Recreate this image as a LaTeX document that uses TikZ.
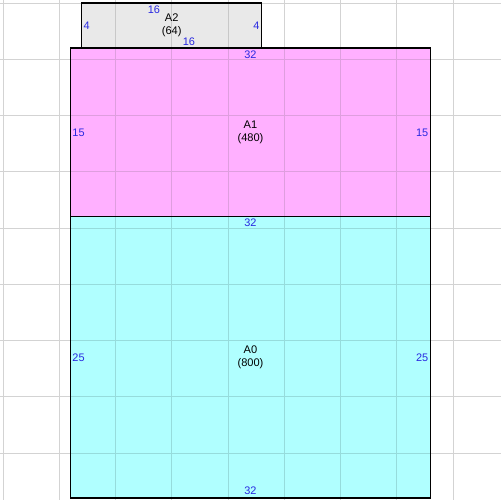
\documentclass[tikz,border=0pt]{standalone}
\usepackage{fontspec}
\setmainfont{Liberation Sans}
\definecolor{gridgray}{RGB}{211,211,211}
\definecolor{pinkfill}{RGB}{255,176,255}
\definecolor{cyanfill}{RGB}{176,255,255}
\definecolor{grayfill}{RGB}{233,233,233}
\definecolor{pinkgrid}{RGB}{222,158,222}
\definecolor{cyangrid}{RGB}{150,220,220}
\definecolor{graygrid}{RGB}{200,200,200}
\definecolor{dimblue}{RGB}{40,40,225}
\begin{document}
\begin{tikzpicture}[x=0.3cm,y=-0.3cm,
  areabox/.style={rectangle, inner sep=0pt, outer sep=0pt},
  areaname/.style={align=center, inner sep=0pt, font=\fontsize{8.4}{10}\selectfont},
  dimlabel/.style={text=dimblue, inner sep=0pt, font=\fontsize{8.3}{10}\selectfont},
  border/.style={draw=black, line width=0.85pt},
  gridline/.style={line width=0.75pt}]
\useasboundingbox (-0.2667,-0.2667) rectangle (44.178,44.178);
\fill[white] (-0.2667,-0.2667) rectangle (44.178,44.178);
\foreach \i in {0,5,...,40} {
  \draw[gridline, gridgray] (\i,-0.3) -- (\i,44.3);
  \draw[gridline, gridgray] (-0.3,\i) -- (44.3,\i);
}
% areas
\node[areabox, fill=grayfill, minimum width=4.8cm, minimum height=1.2cm] (A2) at (15,2) {};
\node[areabox, fill=pinkfill, minimum width=9.6cm, minimum height=4.5cm] (A1) at (22,11.5) {};
\node[areabox, fill=cyanfill, minimum width=9.6cm, minimum height=7.5cm] (A0) at (22,31.5) {};
% tinted grid inside areas
\begin{scope}
  \clip (A2.north west) rectangle (A2.south east);
  \foreach \i in {0,5,...,40} {
    \draw[gridline, graygrid] (\i,-0.3) -- (\i,44.3);
    \draw[gridline, graygrid] (-0.3,\i) -- (44.3,\i);
  }
\end{scope}
\begin{scope}
  \clip (A1.north west) rectangle (A1.south east);
  \foreach \i in {0,5,...,40} {
    \draw[gridline, pinkgrid] (\i,-0.3) -- (\i,44.3);
    \draw[gridline, pinkgrid] (-0.3,\i) -- (44.3,\i);
  }
\end{scope}
\begin{scope}
  \clip (A0.north west) rectangle (A0.south east);
  \foreach \i in {0,5,...,40} {
    \draw[gridline, cyangrid] (\i,-0.3) -- (\i,44.3);
    \draw[gridline, cyangrid] (-0.3,\i) -- (44.3,\i);
  }
\end{scope}
% borders
\draw[border] (A2.north west) rectangle (A2.south east);
\draw[border] (A1.north west) rectangle (A1.south east);
\draw[border] (A0.north west) rectangle (A0.south east);
% names
\node[areaname] (n2) at (A2.center) {A2\\(64)};
\node[areaname] (n1) at (A1.center) {A1\\(480)};
\node[areaname] (n0) at (A0.center) {A0\\(800)};
% dimension labels
\node[dimlabel] (a2t) at (13.42,0.62) {16};
\node[dimlabel] (a2b) at (16.53,3.45) {16};
\node[dimlabel, anchor=west] (a2l) at ([xshift=1.3pt]A2.west) {4};
\node[dimlabel, anchor=east] (a2r) at ([xshift=-1.5pt]A2.east) {4};
\node[dimlabel] (a1t) at (22,4.6) {32};
\node[dimlabel, anchor=west] (a1l) at ([xshift=1.3pt]A1.west) {15};
\node[dimlabel, anchor=east] (a1r) at ([xshift=-1.5pt]A1.east) {15};
\node[dimlabel] (a0t) at (22,19.56) {32};
\node[dimlabel, anchor=west] (a0l) at ([xshift=1.3pt]A0.west) {25};
\node[dimlabel, anchor=east] (a0r) at ([xshift=-1.5pt]A0.east) {25};
\node[dimlabel] (a0b) at (22,43.38) {32};
\end{tikzpicture}
\end{document}
